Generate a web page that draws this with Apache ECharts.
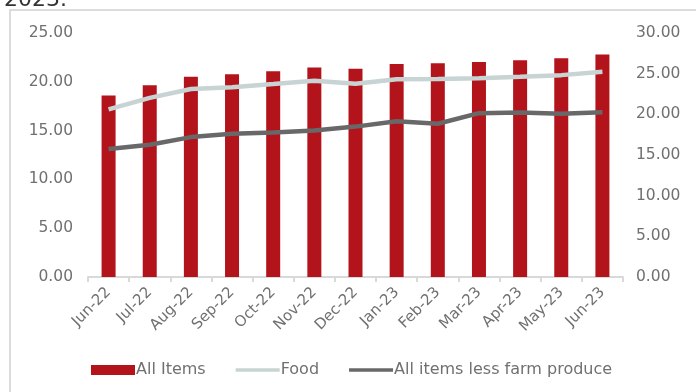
<!DOCTYPE html>
<html>
<head>
<meta charset="utf-8">
<script src="https://cdn.jsdelivr.net/npm/echarts@6/dist/echarts.min.js"></script>
<style>
  html, body { margin: 0; padding: 0; background: #fff; }
  #chart { width: 696px; height: 392px; }
</style>
</head>
<body>
<div id="chart"></div>
<script>
// monthly inflation, year on year (%)
const months = ['Jun-22', 'Jul-22', 'Aug-22', 'Sep-22', 'Oct-22', 'Nov-22', 'Dec-22',
  'Jan-23', 'Feb-23', 'Mar-23', 'Apr-23', 'May-23', 'Jun-23']
const allItems = [18.60, 19.64, 20.52, 20.77, 21.09, 21.47, 21.34, 21.82, 21.91, 22.04, 22.22, 22.41, 22.79]
const food = [20.60, 22.02, 23.12, 23.34, 23.72, 24.13, 23.75, 24.32, 24.35, 24.45, 24.61, 24.82, 25.25]
const core = [15.75, 16.26, 17.20, 17.60, 17.76, 18.02, 18.49, 19.16, 18.84, 20.14, 20.24, 20.06, 20.27]

const txt = '#707070'
const font = 'DejaVu Sans'

const chart = echarts.init(document.getElementById('chart'))

chart.setOption({
  animation: false,
  textStyle: { fontFamily: font, color: txt },
  color: ['#b3131b', '#c8d3d3', '#686868'],
  graphic: [
    {
      type: 'rect',
      shape: { x: 10, y: 10, width: 700, height: 390 },
      style: { fill: 'none', stroke: '#dcdcdc', lineWidth: 2 },
      silent: true
    },
    {
      type: 'text',
      left: 4, top: -11,
      style: { text: '2023.', font: '22px "DejaVu Sans"', fill: '#333' }
    }
  ],
  grid: { left: 88, right: 73, top: 33, bottom: 115 },
  legend: {
    bottom: 9,
    left: 86,
    itemWidth: 44,
    itemHeight: 10,
    itemGap: 30,
    textStyle: { fontFamily: font, fontSize: 16, color: txt, padding: [0, 0, 0, -4] },
    data: [
      { name: 'All Items', icon: 'rect' },
      { name: 'Food', icon: 'path://M0,0 L44,0 L44,3.5 L0,3.5 Z', itemStyle: { color: '#c8d3d3' } },
      { name: 'All items less farm produce', icon: 'path://M0,0 L44,0 L44,3.5 L0,3.5 Z', itemStyle: { color: '#686868' } }
    ]
  },
  xAxis: {
    type: 'category',
    data: months,
    axisLine: { lineStyle: { color: '#d9d9d9', width: 2 } },
    axisTick: { show: true, length: 5, lineStyle: { color: '#d9d9d9', width: 2 } },
    axisLabel: { rotate: 45, fontSize: 15, color: txt, margin: 13, interval: 0 }
  },
  yAxis: [
    {
      type: 'value', min: 0, max: 25, interval: 5,
      splitLine: { show: false },
      axisLine: { show: false },
      axisLabel: { fontSize: 15.5, color: txt, margin: 15, formatter: v => v.toFixed(2) }
    },
    {
      type: 'value', min: 0, max: 30, interval: 5,
      splitLine: { show: false },
      axisLine: { show: false },
      axisLabel: { fontSize: 15.5, color: txt, margin: 13, formatter: v => v.toFixed(2) }
    }
  ],
  series: [
    {
      name: 'All Items',
      type: 'bar',
      yAxisIndex: 0,
      barWidth: 14,
      data: allItems
    },
    {
      name: 'Food',
      type: 'line',
      yAxisIndex: 1,
      symbol: 'none',
      lineStyle: { width: 4.5, color: '#c8d3d3' },
      data: food
    },
    {
      name: 'All items less farm produce',
      type: 'line',
      yAxisIndex: 1,
      symbol: 'none',
      lineStyle: { width: 4.5, color: '#686868' },
      data: core
    }
  ]
})
</script>
</body>
</html>
